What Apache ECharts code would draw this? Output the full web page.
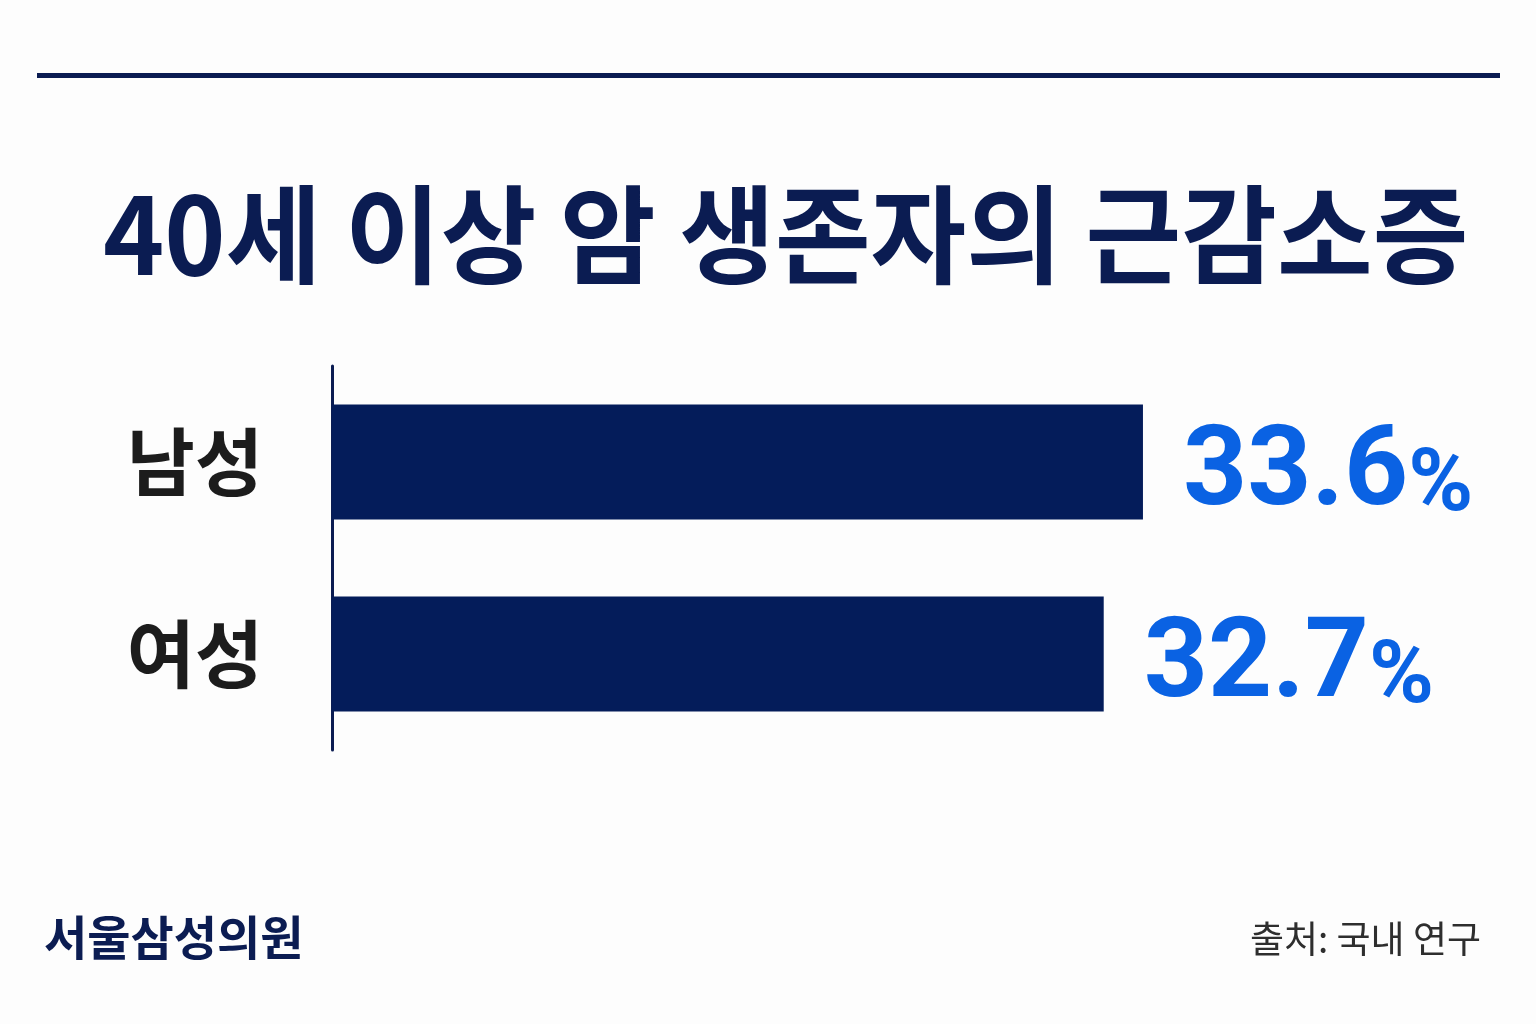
<!DOCTYPE html>
<html>
<head>
<meta charset="utf-8">
<script src="https://cdn.jsdelivr.net/npm/echarts@6/dist/echarts.min.js"></script>
<style>
html,body{margin:0;padding:0;background:#fdfdfd;}
#chart{width:1536px;height:1024px;}
</style>
</head>
<body>
<div id="chart"></div>
<script>
const titleText = '40세 이상 암 생존자의 근감소증';
const categories = ['남성', '여성'];
const values = [33.6, 32.7];
const sourceText = '출처: 국내 연구';
const brandText = '서울삼성의원';

const NAVY = '#0b1c52';
const BAR = '#041c5a';
const BLUE = '#0a62e3';
const KR = '"Noto Sans CJK KR", "Noto Sans", sans-serif';
const NUM = 'Roboto, "Liberation Sans", Arial, sans-serif';

const chart = echarts.init(document.getElementById('chart'));
chart.setOption({
  backgroundColor: '#fdfdfd',
  animation: false,
  grid: { left: 332, right: 114, top: 366, height: 384, containLabel: false },
  xAxis: { type: 'value', min: 15, max: 40, show: false },
  yAxis: {
    type: 'category',
    data: categories,
    inverse: true,
    axisLine: { show: true, lineStyle: { color: NAVY, width: 3 } },
    axisTick: { show: false },
    axisLabel: {
      margin: 69,
      color: '#1c1c1c',
      fontSize: 74,
      fontWeight: 'bold',
      fontFamily: KR
    }
  },
  series: [{
    type: 'bar',
    data: values,
    barWidth: 115,
    itemStyle: { color: BAR },
    label: {
      show: true,
      position: 'right',
      distance: 40,
      padding: [20, 0, 0, 0],
      formatter: p => '{v|' + p.value.toFixed(1) + '}{p|%}',
      rich: {
        v: { fontSize: 112, fontWeight: 'bold', color: BLUE, fontFamily: NUM, lineHeight: 120, verticalAlign: 'bottom' },
        p: { fontSize: 88, fontWeight: 'bold', color: BLUE, fontFamily: NUM, lineHeight: 120, verticalAlign: 'bottom' }
      }
    }
  }],
  graphic: [
    {
      type: 'rect',
      shape: { x: 37, y: 73, width: 1463, height: 5 },
      style: { fill: NAVY }
    },
    {
      type: 'text',
      x: 103, y: 234,
      originX: 0, originY: 0,
      scaleY: 1.03,
      style: {
        text: titleText,
        font: 'bold 104px ' + KR,
        fill: NAVY,
        align: 'left',
        verticalAlign: 'middle'
      }
    },
    {
      type: 'text',
      x: 44, y: 937,
      style: {
        text: brandText,
        font: 'bold 47px ' + KR,
        fill: NAVY,
        align: 'left',
        verticalAlign: 'middle'
      }
    },
    {
      type: 'text',
      x: 1481, y: 939,
      style: {
        text: sourceText,
        font: '37px ' + KR,
        fill: '#2e2e2e',
        align: 'right',
        verticalAlign: 'middle'
      }
    }
  ]
});
</script>
</body>
</html>
